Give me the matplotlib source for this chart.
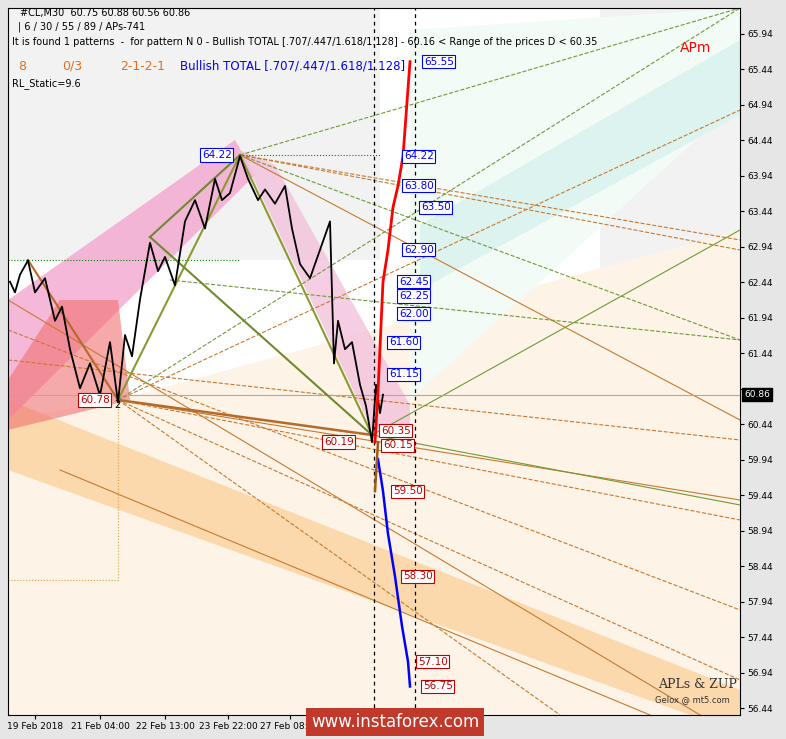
import matplotlib
matplotlib.use("Agg")
import matplotlib.pyplot as plt
from matplotlib.patches import Polygon

# price path (bar position, price)
bars = [10,15,20,28,35,45,55,62,70,80,90,100,110,118,125,132,140,150,158,165,175,185,195,205,215,222,230,240,248,258,265,275,285,292,300,310,320,330,334,338,345,352,360,366,372,376,380,383]
prices = [62.45,62.3,62.55,62.75,62.3,62.5,61.9,62.1,61.5,60.95,61.3,60.85,61.6,60.75,61.7,61.4,62.2,63.0,62.6,62.8,62.4,63.3,63.6,63.2,63.9,63.6,63.7,64.22,63.9,63.6,63.75,63.55,63.8,63.2,62.7,62.5,62.9,63.3,61.3,61.9,61.5,61.6,61.0,60.7,60.19,61.0,60.6,60.86]
up_levels = [65.55,64.22,63.80,63.50,62.90,62.45,62.25,62.00,61.60,61.15]
up_pos = [416,396,396,413,396,391,391,391,381,381]
dn_levels = [60.35,60.15,59.50,58.30,57.10,56.75]
dn_pos = [373,375,385,395,410,415]
right_ticks = [65.94,65.44,64.94,64.44,63.94,63.44,62.94,62.44,61.94,61.44,60.94,60.44,59.94,59.44,58.94,58.44,57.94,57.44,56.94,56.44]
date_labels = ["19 Feb 2018","21 Feb 04:00","22 Feb 13:00","23 Feb 22:00","27 Feb 08:00"]
date_pos = [27,92,157,220,282]
red_path_x = [375,378,383,388,393,398,403,410]
red_path_y = [60.19,60.9,62.45,62.9,63.5,63.8,64.22,65.55]
blue_path_x = [378,383,388,395,402,408,410]
blue_path_y = [59.95,59.5,58.9,58.3,57.6,57.1,56.75]

fig = plt.figure(figsize=(7.86,7.39), dpi=100)
fig.patch.set_facecolor("#e6e6e6")
ax = fig.add_axes([8/786, 24/739, 732/786, 707/739])
ax.set_facecolor("white")
ax.set_xlim(0,732)
ax.set_ylim(56.348,66.306)

def P(px, py):
    return (px-8, 65.94-(py-34)/71)

def poly(pts, **kw):
    ax.add_patch(Polygon([P(*p) for p in pts], closed=True, **kw))
def line(a,b,**kw):
    pa, pb = P(*a), P(*b)
    ax.plot([pa[0],pb[0]],[pa[1],pb[1]],**kw)

poly([(8,8),(380,8),(380,260),(8,260)], color="#f2f2f2", lw=0, zorder=0)
poly([(600,8),(740,8),(740,380),(600,380)], color="#f2f2f2", lw=0, zorder=0)
poly([(118,400),(740,230),(740,715),(118,715),(8,715),(8,420)], color="#fdf3e6", lw=0, zorder=0.5)
poly([(8,400),(740,690),(740,715),(690,715),(8,470)], color="#fbd9ad", lw=0, zorder=0.6)
poly([(410,30),(740,8),(740,100),(410,400)], color="#f2fbf6", lw=0, zorder=0.6)
poly([(420,225),(740,40),(740,115),(420,290)], color="#ddf3ef", lw=0, zorder=0.7)
poly([(8,300),(235,140),(255,175),(8,420)], color="#f4a6cf", lw=0, alpha=0.8, zorder=0.8)
poly([(8,380),(60,300),(118,300),(130,400),(8,430)], color="#f07070", lw=0, alpha=0.6, zorder=0.9)
poly([(240,150),(275,165),(410,405),(410,425),(372,430)], color="#f3c2dc", lw=0, alpha=0.8, zorder=0.8)

lc = "#c8792f"
for a,b in [((240,155),(740,250)),((240,155),(740,240)),((118,400),(740,680)),((8,330),(740,610)),
            ((118,400),(740,520)),((8,360),(740,440)),((118,400),(560,715)),((118,400),(740,110))]:
    line(a,b,color=lc,lw=0.8,ls="--",zorder=1)
for a,b in [((118,400),(740,500)),((8,300),(700,715)),((240,155),(740,420)),((60,470),(650,715))]:
    line(a,b,color=lc,lw=0.8,zorder=1)
for a,b in [((118,400),(740,8)),((240,155),(740,8)),((372,435),(740,230)),((372,435),(740,505)),
            ((240,155),(740,340)),((170,280),(740,340))]:
    line(a,b,color="#6f9a3a",lw=0.8,ls="--" if a[0]!=372 else "-",zorder=1)
line((118,400),(240,155),color="#8b9a30",lw=1.5,zorder=3)
line((240,155),(372,435),color="#8b9a30",lw=1.5,zorder=3)
line((118,400),(372,435),color="#b56a2a",lw=1.8,zorder=3)
line((150,237),(372,435),color="#6f8a30",lw=1.5,zorder=3)
line((150,237),(240,155),color="#6f8a30",lw=1.5,zorder=3)
line((28,260),(118,400),color="#b56a2a",lw=1.5,zorder=3)
line((8,260),(240,260),color="green",lw=0.8,ls=":",zorder=1)
line((240,155),(380,155),color="green",lw=0.8,ls=":",zorder=1)
line((118,400),(118,580),color="#d9a040",lw=0.8,ls=":",zorder=1)
line((8,580),(118,580),color="#d9a040",lw=0.8,ls=":",zorder=1)

ax.axvline(374-8,color="black",lw=0.9,ls=(0,(3,3)),zorder=2)
ax.axvline(415-8,color="black",lw=0.9,ls=(0,(3,3)),zorder=2)
ax.axhline(60.86,color="#aaaaaa",lw=0.8,zorder=1)

ax.plot([b-8 for b in bars], prices, color="black", lw=1.3, zorder=4)
ax.plot([x-8 for x in red_path_x], red_path_y, color="red", lw=2, zorder=5)
ax.plot([x-8 for x in blue_path_x], blue_path_y, color="blue", lw=1.8, zorder=5)
ax.plot([370,367],[60.19,59.5],color="#a05a1a",lw=1.8,zorder=5)

for v,x in zip(up_levels, up_pos):
    ax.text(x, v, f"{v:.2f}", color="blue", fontsize=7.5, va="center", zorder=6,
            bbox=dict(boxstyle="square,pad=0.15", fc="white", ec="blue", lw=0.8))
for v,x in zip(dn_levels, dn_pos):
    ax.text(x, v, f"{v:.2f}", color="#c00000", fontsize=7.5, va="center", zorder=6,
            bbox=dict(boxstyle="square,pad=0.15", fc="white", ec="#c00000", lw=0.8))
ax.text(*P(202,155), "64.22", color="blue", fontsize=7.5, va="center", bbox=dict(boxstyle="square,pad=0.15", fc="white", ec="blue", lw=0.8), zorder=6)
ax.text(*P(80,400), "60.78", color="#c00000", fontsize=7.5, va="center", bbox=dict(boxstyle="square,pad=0.15", fc="white", ec="#c00000", lw=0.8), zorder=6)
ax.text(*P(324,442), "60.19", color="#c00000", fontsize=7.5, va="center", bbox=dict(boxstyle="square,pad=0.15", fc="white", ec="#c00000", lw=0.8), zorder=6)
ax.text(*P(114,408), "2", fontsize=7, zorder=6)

fs=7
ax.text(*P(20,16), "#CL,M30  60.75 60.88 60.56 60.86", fontsize=fs)
ax.text(*P(18,30), "| 6 / 30 / 55 / 89 / APs-741", fontsize=fs)
ax.text(*P(12,45), "It is found 1 patterns  -  for pattern N 0 - Bullish TOTAL [.707/.447/1.618/1.128] - 60.16 < Range of the prices D < 60.35", fontsize=fs)
ax.text(*P(18,70), "8", fontsize=9, color="#e07020")
ax.text(*P(62,70), "0/3", fontsize=9, color="#e07020")
ax.text(*P(120,70), "2-1-2-1", fontsize=9, color="#e07020")
ax.text(*P(180,70), "Bullish TOTAL [.707/.447/1.618/1.128]", fontsize=8.5, color="blue")
ax.text(*P(12,86), "RL_Static=9.6", fontsize=fs)
ax.text(*P(680,52), "APm", fontsize=10, color="red")
ax.text(*P(658,688), "APLs & ZUP", fontsize=9, family="DejaVu Serif", color="#333333")
ax.text(*P(655,702), "Gelox @ mt5.com", fontsize=6, color="#333333")

ax.yaxis.tick_right()
ax.set_yticks(right_ticks)
ax.set_yticklabels([f"{t:.2f}" if t != 60.94 else "" for t in right_ticks], fontsize=6.5)
ax.set_xticks(date_pos)
ax.set_xticklabels(date_labels, fontsize=6.5)
ax.tick_params(length=3, pad=2)
ax.text(736, 60.86, "60.86", fontsize=6.5, color="white", va="center", transform=ax.transData,
        bbox=dict(boxstyle="square,pad=0.2", fc="black", ec="black"), clip_on=False, zorder=10)
fig.text(395/786, 1-722/739, "www.instaforex.com", fontsize=12, color="white", ha="center", va="center",
         bbox=dict(boxstyle="square,pad=0.3", fc="#c0392b", ec="none"))
fig.savefig("out.png", dpi=100, facecolor=fig.get_facecolor())
